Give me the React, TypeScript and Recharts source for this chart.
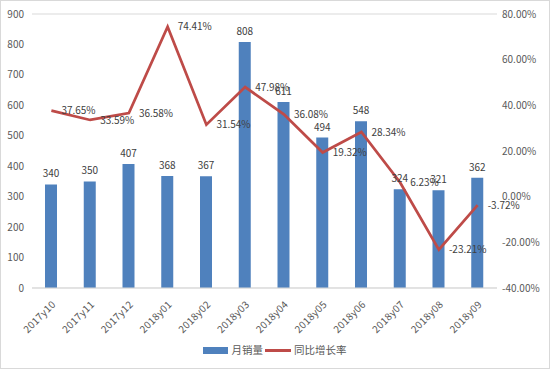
import {
  Bar,
  CartesianGrid,
  ComposedChart,
  LabelList,
  Legend,
  Line,
  XAxis,
  YAxis,
} from 'recharts';

const months = [
  '2017y10', '2017y11', '2017y12', '2018y01', '2018y02', '2018y03',
  '2018y04', '2018y05', '2018y06', '2018y07', '2018y08', '2018y09',
];
const monthlySales = [340, 350, 407, 368, 367, 808, 611, 494, 548, 324, 321, 362];
const yoyGrowth = [37.65, 33.59, 36.58, 74.41, 31.54, 47.98, 36.08, 19.32, 28.34, 6.23, -23.21, -3.72];

const salesTicks = [0, 100, 200, 300, 400, 500, 600, 700, 800, 900];
const growthTicks = [-40, -20, 0, 20, 40, 60, 80];

const BAR_COLOR = '#4f81bd';
const LINE_COLOR = '#be4b48';
const TEXT_COLOR = '#595959';
const FONT = '"Noto Sans CJK SC", "Noto Sans", sans-serif';

const data = months.map((month, i) => ({
  month,
  sales: monthlySales[i],
  growth: yoyGrowth[i],
}));

function ChartLegend() {
  return (
    <div
      style={{
        display: 'flex',
        justifyContent: 'center',
        alignItems: 'center',
        fontSize: 10.5,
        color: TEXT_COLOR,
        fontFamily: FONT,
        lineHeight: '14px',
      }}
    >
      <span style={{ display: 'inline-block', width: 25, height: 7, background: BAR_COLOR, marginRight: 4 }} />
      <span style={{ marginRight: 2 }}>月销量</span>
      <span style={{ display: 'inline-block', width: 26, height: 3, background: LINE_COLOR, marginRight: 3 }} />
      <span>同比增长率</span>
    </div>
  );
}

export default function App() {
  return (
    <div
      style={{
        position: 'absolute',
        left: 0,
        top: 0,
        width: 550,
        height: 369,
        boxSizing: 'border-box',
        border: '1px solid #d9d9d9',
        background: '#fff',
        fontFamily: FONT,
      }}
    >
      <ComposedChart
        width={548}
        height={367}
        data={data}
        margin={{ top: 13, right: 0, bottom: 11, left: -1 }}
      >
        <CartesianGrid vertical={false} stroke="#d9d9d9" />
        <XAxis
          dataKey="month"
          interval={0}
          angle={-45}
          textAnchor="end"
          height={55}
          tickMargin={6}
          tick={{ fill: TEXT_COLOR, fontSize: 10, letterSpacing: 0.3 }}
          tickLine={false}
          axisLine={{ stroke: '#d9d9d9' }}
        />
        <YAxis
          yAxisId="sales"
          width={32}
          domain={[0, 900]}
          ticks={salesTicks}
          interval={0}
          tick={{ fill: TEXT_COLOR, fontSize: 10 }}
          tickLine={false}
          axisLine={false}
        />
        <YAxis
          yAxisId="growth"
          orientation="right"
          width={52}
          domain={[-40, 80]}
          ticks={growthTicks}
          interval={0}
          tickSize={3}
          tickFormatter={(v) => `${Number(v).toFixed(2)}%`}
          tick={{ fill: TEXT_COLOR, fontSize: 10 }}
          tickLine={false}
          axisLine={false}
        />
        <Legend verticalAlign="bottom" content={() => <ChartLegend />} />
        <Bar
          yAxisId="sales"
          dataKey="sales"
          name="月销量"
          fill={BAR_COLOR}
          barSize={12}
          isAnimationActive={false}
        >
          <LabelList dataKey="sales" position="top" offset={7} fill="#404040" fontSize={10} />
        </Bar>
        <Line
          yAxisId="growth"
          dataKey="growth"
          name="同比增长率"
          type="linear"
          stroke={LINE_COLOR}
          strokeWidth={2.75}
          dot={false}
          isAnimationActive={false}
        >
          <LabelList
            dataKey="growth"
            position="right"
            offset={10}
            fill="#404040"
            fontSize={10}
            formatter={(v: number) => `${Number(v).toFixed(2)}%`}
          />
        </Line>
      </ComposedChart>
    </div>
  );
}
